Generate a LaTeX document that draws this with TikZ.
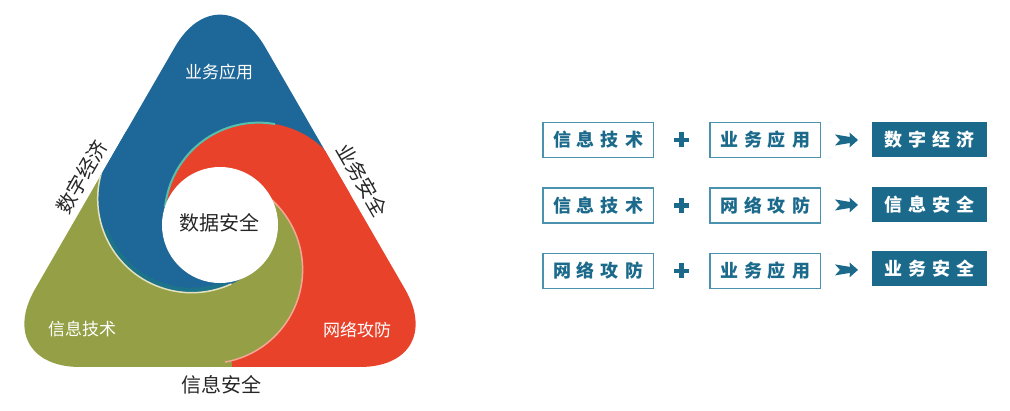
\documentclass[tikz,border=0pt]{standalone}
\usepackage{fontspec}
\newfontfamily\cjk{Noto Sans CJK SC}
\usetikzlibrary{positioning,calc}
\definecolor{swb}{HTML}{1E6799}
\definecolor{swr}{HTML}{E8432A}
\definecolor{swg}{HTML}{95A046}
\definecolor{edgeb}{HTML}{E4E2BE}
\definecolor{edger}{HTML}{55BFAE}
\definecolor{edgeg}{HTML}{F2A894}
\definecolor{tailb}{HTML}{1B7C80}
\definecolor{boxc}{HTML}{1B6A8B}
\definecolor{framec}{HTML}{4B92AE}
\definecolor{inkc}{HTML}{262626}
\newcommand{\ls}{\hspace{6pt}}
\tikzset{
  tag/.style={text=white, font=\cjk\fontsize{17}{17}\selectfont},
  side/.style={text=inkc, font=\cjk\fontsize{20}{20}\selectfont},
  inbox/.style={draw=framec, line width=1.5pt, text=boxc, minimum width=110.5pt,
    minimum height=35pt, inner sep=0pt, font=\cjk\bfseries\fontsize{18}{18}\selectfont},
  outbox/.style={fill=boxc, text=white, minimum width=115pt, minimum height=35pt,
    inner sep=0pt, font=\cjk\bfseries\fontsize{18}{18}\selectfont},
}
\begin{document}
\begin{tikzpicture}[x=1pt,y=1pt]
\useasboundingbox (0,0) rectangle (1010,410);

% swirl triangle
\begin{scope}[shift={(220,183)}]
\coordinate (cb) at (135:40);
\coordinate (cr) at (15:40);
\coordinate (cg) at (255:44);
\begin{scope}
\clip[rounded corners=90pt] (0,-140) -- (230,-140) -- (0,258) -- (-230,-140) -- cycle;
\fill[swb] (0,0) -- (35:330) -- (95:330) -- (155:330) -- cycle;
\fill[swg] (0,0) -- (155:330) -- (215:330) -- (275:330) -- cycle;
\fill[swr] (0,0) -- (275:330) -- (335:330) -- (35:330) -- cycle;
\fill[swg] (cg) circle (94);
\fill[swb] (cb) circle (94);
\fill[swr] (cr) circle (94);
% bottom: blue over green over red
\begin{scope}
\clip (0,0) -- (215:330) -- (268:330) -- (321:330) -- cycle;
\fill[swg] (cg) circle (94);
\end{scope}
\begin{scope}
\clip (0,0) -- (189:330) -- (233:330) -- (277:330) -- (321:330) -- cycle;
\fill[swb] (cb) circle (94);
\end{scope}
% right: green on top
\begin{scope}
\clip (0,0) -- (309:330) -- (353:330) -- (397:330) -- (441:330) -- cycle;
\fill[swg] (cg) circle (94);
\end{scope}
\draw[tailb, line width=5pt, opacity=.6] (cb) ++(200:91.5) arc[start angle=200, end angle=292, radius=91.5];
\draw[edgeb, line width=1.5pt] (cb) ++(163:94) arc[start angle=163, end angle=295, radius=94];
\draw[edger, line width=2pt] (cr) ++(80:94) arc[start angle=80, end angle=174, radius=94];
\draw[edgeg, line width=1.5pt] (cg) ++(-80:94) arc[start angle=-80, end angle=50, radius=94];
\end{scope}
\fill[white] (0,2) circle (58);
\end{scope}

\node[tag] (app) at (219,338) {业务应用};
\node[tag] (net) at (357,80) {网络攻防};
\node[tag] (it) at (82,81) {信息技术};
\node[side] (core) at (219,187) {数据安全};
\node[side] (infosec) at (221,25) {信息安全};
\node[side, rotate=60] (econ) at (82,233) {数字经济};
\node[side, rotate=-60] (bizsec) at (362,230) {业务安全};

% formulas
\node[inbox] (a1) at (598,270) {信\ls 息\ls 技\ls 术};
\node[inbox, right=55pt of a1] (b1) {业\ls 务\ls 应\ls 用};
\node[outbox, right=51pt of b1] (c1) {数\ls 字\ls 经\ls 济};
\node[inbox, below=29pt of a1] (a2) {信\ls 息\ls 技\ls 术};
\node[inbox, below=29pt of b1] (b2) {网\ls 络\ls 攻\ls 防};
\node[outbox, below=29pt of c1] (c2) {信\ls 息\ls 安\ls 全};
\node[inbox, below=29pt of a2] (a3) {网\ls 络\ls 攻\ls 防};
\node[inbox, below=29pt of b2] (b3) {业\ls 务\ls 应\ls 用};
\node[outbox, below=29pt of c2] (c3) {业\ls 务\ls 安\ls 全};
\foreach \i in {1,2,3}{
  \coordinate (p\i) at ($(a\i.east)!.5!(b\i.west)$);
  \coordinate (q\i) at ($(b\i.east)!.5!(c\i.west)$);
  \draw[boxc, line width=4.5pt] ([xshift=-7.5pt]p\i) -- ([xshift=7.5pt]p\i);
  \draw[boxc, line width=4.5pt] ([yshift=-7.5pt]p\i) -- ([yshift=7.5pt]p\i);
  \fill[boxc, shift={(q\i)}] (-11.5,5.5) -- (3.5,3) -- (3,7.5) -- (11.5,0) -- (3,-7.5)
    -- (3.5,-3) -- (-11.5,-5.5) -- (-6.5,0) -- cycle;
}
\end{tikzpicture}
\end{document}
